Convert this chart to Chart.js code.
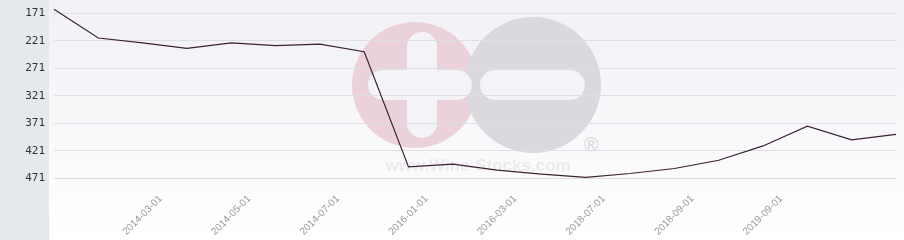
<!DOCTYPE html>
<html>
<head>
<meta charset="utf-8">
<script src="https://cdn.jsdelivr.net/npm/chart.js@4"></script>
<style>
  html, body { margin: 0; padding: 0; background: #fff; }
  #wrap { width: 904px; height: 240px; position: relative; }
</style>
</head>
<body>
<div id="wrap"><canvas id="chart"></canvas></div>
<script>
// categories: only every second date is printed on the axis, the rest are unknown
const categories = ['', '', '2014-03-01', '', '2014-05-01', '', '2014-07-01', '', '2016-01-01', '',
                    '2016-03-01', '', '2018-07-01', '', '2018-09-01', '', '2019-09-01', '', '', ''];
const ranks = [164, 216, 225, 235, 225, 230, 227, 241, 450, 445,
               456, 463, 469, 462, 453, 438, 412, 376, 401, 391];
const yTicks = [171, 221, 271, 321, 371, 421, 471];

// paints the gray side panel, the plot gradient and the watermark
const backdrop = {
    id: 'backdrop',
    beforeDraw(chart) {
        const ctx = chart.ctx;
        const w = chart.width, h = chart.height;
        ctx.save();
        ctx.fillStyle = '#e6e9ec';
        ctx.fillRect(0, 0, 49, h);
        const g = ctx.createLinearGradient(0, 0, 0, h);
        g.addColorStop(0, '#f1f1f6');
        g.addColorStop(1, '#ffffff');
        ctx.fillStyle = g;
        ctx.fillRect(49, 0, w - 49, h);

        // watermark
        ctx.fillStyle = '#ebd2da';
        ctx.beginPath(); ctx.arc(415, 85, 63, 0, Math.PI * 2); ctx.fill();
        ctx.fillStyle = '#dadade';
        ctx.beginPath(); ctx.arc(533, 85, 68, 0, Math.PI * 2); ctx.fill();
        ctx.fillStyle = '#f4f4f8';
        ctx.beginPath(); ctx.roundRect(407, 32, 30, 106, 15); ctx.fill();
        ctx.beginPath(); ctx.roundRect(368, 70, 104, 30, 15); ctx.fill();
        ctx.beginPath(); ctx.roundRect(480, 70, 105, 30, 15); ctx.fill();
        ctx.fillStyle = '#dcdce0';
        ctx.font = 'bold 20px "Liberation Sans", Arial, sans-serif';
        ctx.textAlign = 'center';
        ctx.textBaseline = 'middle';
        ctx.fillText('®', 591, 145);
        ctx.fillStyle = 'rgba(205,205,210,0.35)';
        ctx.font = 'bold 17px "Liberation Sans", Arial, sans-serif';
        ctx.fillText('www.Wine-Stocks.com', 478, 166);
        ctx.restore();
    }
};

new Chart(document.getElementById('chart'), {
    type: 'line',
    data: {
        labels: categories,
        datasets: [{
            data: ranks,
            borderColor: '#3b2232',
            borderWidth: 1.2,
            pointRadius: 0,
            tension: 0,
            fill: false
        }]
    },
    options: {
        responsive: true,
        maintainAspectRatio: false,
        animation: false,
        layout: { padding: { top: 0, right: 8, left: 0, bottom: 0 } },
        plugins: {
            legend: { display: false },
            tooltip: { enabled: false }
        },
        scales: {
            x: {
                offset: false,
                grid: { display: false },
                border: { display: false },
                afterFit: function(scale) {
                    scale.height = 50;
                    scale.paddingLeft = 0;
                    scale.paddingRight = 0;
                },
                ticks: {
                    autoSkip: false,
                    minRotation: 45,
                    maxRotation: 45,
                    padding: -5,
                    labelOffset: 18,
                    color: '#999999',
                    font: { family: '"Liberation Sans", Arial, sans-serif', size: 10 }
                }
            },
            y: {
                reverse: true,
                min: 147,
                max: 492,
                afterBuildTicks: function(scale) {
                    scale.ticks = yTicks.map(v => ({ value: v }));
                },
                afterFit: function(scale) {
                    scale.width = 54;
                    scale.paddingTop = 0;
                    scale.paddingBottom = 0;
                },
                grid: { color: '#dedee3', drawTicks: false },
                border: { display: false },
                ticks: {
                    padding: 9,
                    color: '#333333',
                    font: { family: '"DejaVu Sans Mono", monospace', size: 11 }
                }
            }
        }
    },
    plugins: [backdrop]
});
</script>
</body>
</html>
